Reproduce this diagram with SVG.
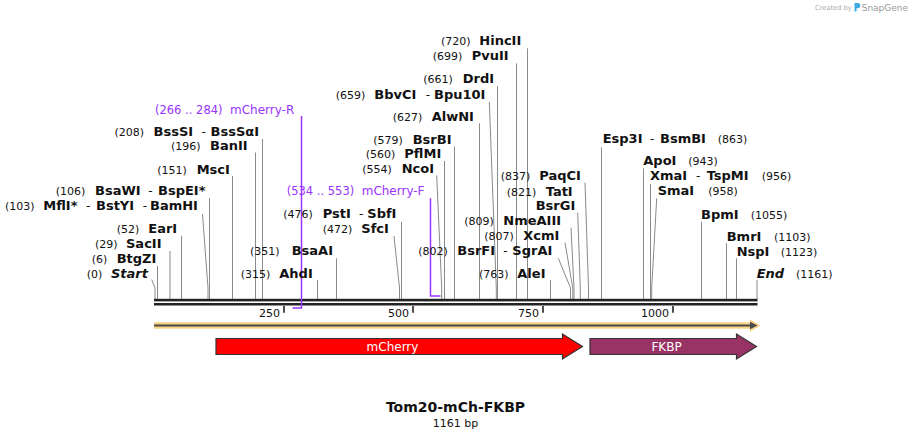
<svg xmlns="http://www.w3.org/2000/svg" width="912" height="438" viewBox="0 0 912 438">
<style>
text{font-family:"DejaVu Sans","Liberation Sans",sans-serif;fill:#111}
.n{font-size:11px}
.e{font-size:13px;font-weight:bold}
.i{font-size:13px;font-weight:bold;font-style:italic}
.h{font-size:12px}
.p{font-size:11.5px;fill:#9933ff}
.pl{font-size:12px;fill:#9933ff}
.t{font-size:11px}
.l{fill:none;stroke:#8a8a8a;stroke-width:1}
.pr{fill:none;stroke:#9933ff;stroke-width:1.5}
.tk{stroke:#222;stroke-width:1.6}
.ft{font-size:12px;fill:#fff;text-anchor:middle}
</style>
<rect width="912" height="438" fill="#fff"/>
<g id="watermark">
<text x="815" y="9.5" style="font-size:6.7px;fill:#aaa">Created by</text>
<path d="M854.5,3 h3.2 a2.6,2.6 0 0 1 0,5.2 h-1.2 v3.2 h-2 z" fill="#3ea9e3"/>
<text x="861.7" y="10.5" style="font-size:9px;fill:#999">SnapGene</text>
</g>
<g id="connectors">
<path class="l" d="M262.5,139V299M255.5,152.5V299M232.5,176V299M209.5,198V299M202.5,214L208,288V299M181.5,236V299M170,251V299M157.5,266V299M151.7,279.5L155,288V299"/>
<path class="l" d="M317.5,280V299M336.5,258.3V299M401.5,221.7V299M394,236L399.5,288V299M436.7,175.5L441.7,288V299M444.5,161V299M454.5,146.5V299M479.5,123.3V299M489.3,101.7L496.3,288V299M497.5,86V299M516.5,63.3V299M527.5,48.3V299M550.5,280V299M558.3,258.3L570.5,288V299M565,242.7L572.8,288V299M571,227.7L574,288V299M577.7,212.7L580.3,288V299M585,182.7L588.5,288V299"/>
<path class="l" d="M601.5,147.3V299M643.5,168.3V299M650.5,184V299M656.7,198.3L651.7,288V299M701.5,221.7V299M726.5,243.3V299M736.5,258.3V299M757,280V299"/>
</g>
<g id="backbone">
<rect x="154" y="298.8" width="603.5" height="2.6" fill="#222"/>
<rect x="154" y="303" width="603.5" height="2.5" fill="#222"/>
<path class="tk" d="M284,306V312.7M413,306V312.7M543,306V312.7M673,306V312.7"/>
<text class="t" x="280" y="316.5" text-anchor="end">250</text>
<text class="t" x="409" y="316.5" text-anchor="end">500</text>
<text class="t" x="539" y="316.5" text-anchor="end">750</text>
<text class="t" x="669" y="316.5" text-anchor="end">1000</text>
</g>
<g id="primer-mCherry-R">
<path class="pr" d="M301.5,116V308H292.5"/>
<text class="p" x="155" y="114">(266 .. 284)</text>
<text class="pl" x="230" y="114">mCherry-R</text>
</g>
<g id="primer-mCherry-F">
<path class="pr" d="M430.5,198.3V296H440.5"/>
<text class="p" x="286.7" y="195">(534 .. 553)</text>
<text class="pl" x="361.7" y="195">mCherry-F</text>
</g>
<g id="BssSI"><text class="n" x="114.5" y="135.5">(208)</text><text class="e" x="153.5" y="135.5">BssSI</text><text class="h" x="201.5" y="135.5">-</text><text class="e" x="210.5" y="135.5">BssSαI</text></g>
<g id="BanII"><text class="n" x="171" y="150">(196)</text><text class="e" x="210" y="150">BanII</text></g>
<g id="MscI"><text class="n" x="157.3" y="173.5">(151)</text><text class="e" x="196.7" y="173.5">MscI</text></g>
<g id="BsaWI"><text class="n" x="55.7" y="194.5">(106)</text><text class="e" x="95" y="194.5">BsaWI</text><text class="h" x="148.3" y="194.5">-</text><text class="e" x="158" y="194.5">BspEI*</text></g>
<g id="MflI"><text class="n" x="5" y="210">(103)</text><text class="e" x="43.3" y="210">MflI*</text><text class="h" x="86" y="210">-</text><text class="e" x="96" y="210">BstYI</text><text class="h" x="142.7" y="210">-</text><text class="e" x="150" y="210">BamHI</text></g>
<g id="EarI"><text class="n" x="116.7" y="233.3">(52)</text><text class="e" x="148.3" y="233.3">EarI</text></g>
<g id="SacII"><text class="n" x="95" y="248.3">(29)</text><text class="e" x="126" y="248.3">SacII</text></g>
<g id="BtgZI"><text class="n" x="91.7" y="263.3">(6)</text><text class="e" x="116.7" y="263.3">BtgZI</text></g>
<g id="Start"><text class="n" x="86.7" y="278.3">(0)</text><text class="i" x="111" y="278.3">Start</text></g>
<g id="AhdI"><text class="n" x="240.7" y="278.3">(315)</text><text class="e" x="279.3" y="278.3">AhdI</text></g>
<g id="BsaAI"><text class="n" x="250" y="255">(351)</text><text class="e" x="291.7" y="255">BsaAI</text></g>
<g id="PstI"><text class="n" x="283.3" y="218.3">(476)</text><text class="e" x="322.7" y="218.3">PstI</text><text class="h" x="359" y="218.3">-</text><text class="e" x="367.3" y="218.3">SbfI</text></g>
<g id="SfcI"><text class="n" x="322.7" y="233.3">(472)</text><text class="e" x="361.3" y="233.3">SfcI</text></g>
<g id="NcoI"><text class="n" x="362.3" y="173.3">(554)</text><text class="e" x="401.7" y="173.3">NcoI</text></g>
<g id="PflMI"><text class="n" x="365.7" y="158.3">(560)</text><text class="e" x="404.3" y="158.3">PflMI</text></g>
<g id="BsrBI"><text class="n" x="373.3" y="144">(579)</text><text class="e" x="412.7" y="144">BsrBI</text></g>
<g id="AlwNI"><text class="n" x="392.7" y="120.7">(627)</text><text class="e" x="431.7" y="120.7">AlwNI</text></g>
<g id="BbvCI"><text class="n" x="335.7" y="99">(659)</text><text class="e" x="374.3" y="99">BbvCI</text><text class="h" x="425.7" y="99">-</text><text class="e" x="434" y="99">Bpu10I</text></g>
<g id="DrdI"><text class="n" x="423.3" y="83.3">(661)</text><text class="e" x="462.7" y="83.3">DrdI</text></g>
<g id="PvuII"><text class="n" x="432.7" y="60">(699)</text><text class="e" x="471.7" y="60">PvuII</text></g>
<g id="HincII"><text class="n" x="441" y="45">(720)</text><text class="e" x="479.3" y="45">HincII</text></g>
<g id="AleI"><text class="n" x="479" y="278.3">(763)</text><text class="e" x="517.3" y="278.3">AleI</text></g>
<g id="BsrFI"><text class="n" x="418.3" y="255">(802)</text><text class="e" x="457.3" y="255">BsrFI</text><text class="h" x="503.3" y="255">-</text><text class="e" x="512.3" y="255">SgrAI</text></g>
<g id="XcmI"><text class="n" x="484.3" y="240">(807)</text><text class="e" x="523.3" y="240">XcmI</text></g>
<g id="NmeAIII"><text class="n" x="464.3" y="225">(809)</text><text class="e" x="503.3" y="225">NmeAIII</text></g>
<g id="TatI"><text class="n" x="506.7" y="195.7">(821)</text><text class="e" x="545.7" y="195.7">TatI</text><text class="e" x="535.7" y="210">BsrGI</text></g>
<g id="PaqCI"><text class="n" x="500.7" y="180">(837)</text><text class="e" x="539.3" y="180">PaqCI</text></g>
<g id="Esp3I"><text class="e" x="602.7" y="143.3">Esp3I</text><text class="h" x="650" y="143.3">-</text><text class="e" x="660" y="143.3">BsmBI</text><text class="n" x="717.7" y="143.3">(863)</text></g>
<g id="ApoI"><text class="e" x="643.3" y="165">ApoI</text><text class="n" x="688.3" y="165">(943)</text></g>
<g id="XmaI"><text class="e" x="650" y="180">XmaI</text><text class="h" x="696" y="180">-</text><text class="e" x="706.7" y="180">TspMI</text><text class="n" x="761.7" y="180">(956)</text></g>
<g id="SmaI"><text class="e" x="657.7" y="195">SmaI</text><text class="n" x="708.3" y="195">(958)</text></g>
<g id="BpmI"><text class="e" x="701" y="219">BpmI</text><text class="n" x="750.7" y="219">(1055)</text></g>
<g id="BmrI"><text class="e" x="726.7" y="240.7">BmrI</text><text class="n" x="774" y="240.7">(1103)</text></g>
<g id="NspI"><text class="e" x="736.7" y="255.7">NspI</text><text class="n" x="780.7" y="255.7">(1123)</text></g>
<g id="End"><text class="i" x="756.7" y="278.3">End</text><text class="n" x="796" y="278.3">(1161)</text></g>
<g id="sequence-arrow">
<path d="M154,322.3H750V319.3L760.5,325.5L750,331.7V328.7H154Z" fill="#f9d385"/>
<path d="M154,325.5H751" stroke="#4a4a4a" stroke-width="2"/>
<path d="M750,321.8L757.5,325.5L750,329.2Z" fill="#4a4a4a"/>
</g>
<g id="mCherry">
<path d="M216,338.5H562.5V334L582.5,346.5L562.5,359V354.5H216Z" fill="#ff0000" stroke="#333" stroke-width="1.2"/>
<text class="ft" x="392.5" y="351">mCherry</text>
</g>
<g id="FKBP">
<path d="M590,338.5H736.5V334L756.5,346.5L736.5,359V354.5H590Z" fill="#993366" stroke="#333" stroke-width="1.2"/>
<text class="ft" x="666.5" y="351">FKBP</text>
</g>
<g id="title">
<text x="455.5" y="412" text-anchor="middle" style="font-size:14px;font-weight:bold">Tom20-mCh-FKBP</text>
<text x="455.5" y="426.5" text-anchor="middle" style="font-size:11px">1161 bp</text>
</g>
</svg>
